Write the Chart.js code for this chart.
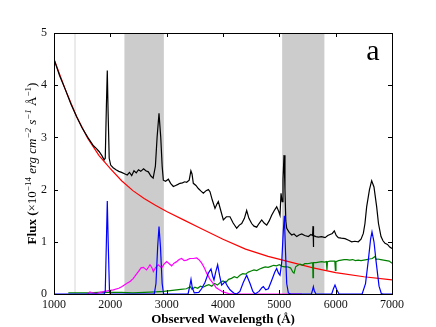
<!DOCTYPE html>
<html>
<head>
<meta charset="utf-8">
<script src="https://cdn.jsdelivr.net/npm/chart.js@4/dist/chart.umd.min.js"></script>
<style>
  body { margin: 0; background: #fff; }
  canvas { display: block; }
</style>
</head>
<body>
<canvas id="spec" width="436" height="327"></canvas>
<script>
// observed spectrum (black)
const blackWave = [1000,1100,1200,1300,1400,1500,1600,1700,1750,1800,1850,1890,1910,1930,1946,1960,1980,2006,2050,2100,2150,2200,2260,2300,2340,2380,2420,2460,2500,2540,2590,2630,2675,2720,2760,2800,2830,2864,2895,2920,2941,2980,3030,3070,3118,3160,3200,3237,3280,3320,3355,3400,3430,3450,3473,3520,3562,3610,3651,3700,3740,3769,3810,3858,3890,3917,3960,4006,4060,4124,4180,4243,4290,4332,4380,4420,4460,4509,4550,4598,4640,4687,4730,4776,4820,4864,4910,4953,4990,5012,5030,5050,5065,5083,5100,5115,5131,5175,5220,5260,5309,5350,5398,5450,5516,5560,5590,5598,5602,5606,5612,5650,5693,5750,5812,5860,5900,5940,5976,6010,6047,6100,6166,6230,6284,6340,6402,6450,6491,6520,6550,6600,6639,6680,6728,6760,6805,6840,6876,6920,6960,7000];
const blackFlux = [4.50,4.18,3.92,3.64,3.40,3.18,3.00,2.84,2.79,2.73,2.65,2.57,2.60,3.60,4.28,3.50,2.60,2.47,2.42,2.38,2.35,2.33,2.30,2.28,2.33,2.27,2.36,2.32,2.38,2.35,2.40,2.36,2.34,2.26,2.22,2.45,3.00,3.46,3.00,2.45,2.18,2.16,2.20,2.12,2.06,2.08,2.10,2.12,2.13,2.15,2.14,2.18,2.36,2.30,2.12,2.08,2.02,1.97,1.93,1.98,2.00,1.96,1.80,1.64,1.72,1.77,1.60,1.42,1.48,1.48,1.36,1.26,1.32,1.35,1.45,1.60,1.45,1.35,1.30,1.28,1.35,1.42,1.36,1.32,1.40,1.51,1.60,1.67,1.58,1.51,1.93,1.77,2.20,2.66,2.00,1.40,1.26,1.18,1.13,1.15,1.10,1.13,1.15,1.12,1.10,1.14,1.12,1.30,0.90,1.28,1.12,1.10,1.09,1.10,1.08,1.12,1.14,1.16,1.21,1.12,1.08,1.07,1.06,1.03,1.00,1.01,1.00,1.05,1.16,1.35,1.67,2.00,2.17,2.05,1.67,1.35,1.10,1.02,0.97,0.95,0.90,0.87];

// continuum (red)
const redWave = [1000,1200,1400,1600,1800,2000,2200,2400,2600,2800,3000,3300,3600,4000,4400,4800,5200,5600,6000,6500,7000];
const redFlux = [4.50,3.92,3.40,2.98,2.65,2.40,2.17,1.98,1.83,1.70,1.58,1.42,1.26,1.05,0.86,0.72,0.61,0.50,0.41,0.33,0.27];

// emission lines (blue)
const blueWave = [1000,1890,1910,1930,1946,1962,1985,2000,2780,2810,2840,2864,2890,2920,2945,3380,3410,3432,3455,3490,3570,3620,3680,3740,3787,3815,3840,3870,3905,3940,3976,4006,4036,4080,4124,4190,4243,4300,4360,4420,4480,4530,4568,4640,4690,4716,4760,4805,4860,4920,4953,4985,5012,5042,5070,5089,5110,5131,5160,5200,5570,5590,5604,5620,5650,5930,5960,5988,6020,6060,6470,6530,6580,6620,6645,6680,6720,6770,6810,6850,7000];
const blueFlux = [0,0,0.05,1.00,1.78,1.00,0.05,0,0,0.20,0.90,1.29,0.90,0.20,0,0,0.15,0.28,0.12,0.02,0.03,0.10,0.22,0.40,0.48,0.35,0.27,0.42,0.56,0.35,0.17,0.20,0.24,0.15,0.08,0.02,0,0.05,0.22,0.36,0.20,0.05,0,0.05,0.12,0.14,0.08,0.10,0.25,0.42,0.49,0.40,0.36,0.60,1.20,1.50,0.80,0.20,0.02,0,0,0.08,0.14,0.06,0,0,0.10,0.17,0.08,0,0,0.20,0.65,1.05,1.19,1.00,0.60,0.15,0.01,0,0];

// Fe II template (magenta)
const magWave = [1600,1639,1680,1750,1817,1900,2053,2150,2201,2290,2350,2408,2450,2497,2545,2586,2645,2704,2740,2763,2800,2852,2911,2960,3000,3045,3089,3130,3178,3220,3266,3310,3355,3410,3473,3533,3580,3622,3670,3710,3770,3828,3880,3935,4000,4100,4200,5400];
const magFlux = [0,0.04,0.02,0.01,0.03,0.05,0.08,0.11,0.14,0.20,0.24,0.30,0.36,0.43,0.50,0.51,0.46,0.56,0.50,0.43,0.50,0.56,0.50,0.58,0.62,0.58,0.54,0.59,0.62,0.66,0.68,0.64,0.65,0.68,0.68,0.69,0.65,0.59,0.50,0.40,0.28,0.20,0.12,0.08,0.04,0.01,0,0];

// host galaxy (green)
const greenWave = [1254,1400,1600,1800,2000,2200,2400,2600,2800,2950,3100,3250,3350,3420,3450,3500,3550,3600,3650,3700,3750,3800,3850,3900,3950,4000,4050,4100,4150,4200,4250,4300,4350,4400,4450,4500,4550,4600,4650,4700,4750,4800,4850,4900,4950,5000,5050,5100,5150,5200,5240,5261,5290,5330,5370,5410,5450,5500,5550,5592,5597,5601,5604,5608,5650,5700,5750,5800,5835,5845,5855,5900,5950,5985,5995,6005,6050,6100,6150,6200,6250,6300,6350,6400,6450,6500,6550,6600,6650,6698,6720,6750,6800,6850,6900,6950,7000];
const greenFlux = [0.02,0.02,0.02,0.03,0.03,0.03,0.02,0.03,0.04,0.05,0.07,0.09,0.10,0.14,0.09,0.13,0.11,0.15,0.13,0.16,0.18,0.15,0.20,0.17,0.22,0.25,0.22,0.28,0.30,0.33,0.31,0.36,0.39,0.38,0.42,0.44,0.46,0.45,0.48,0.50,0.52,0.51,0.53,0.55,0.54,0.56,0.53,0.52,0.52,0.50,0.42,0.40,0.52,0.55,0.57,0.55,0.58,0.58,0.59,0.60,0.30,0.58,0.30,0.60,0.60,0.61,0.62,0.61,0.62,0.46,0.62,0.63,0.63,0.63,0.45,0.62,0.64,0.65,0.66,0.66,0.65,0.66,0.64,0.65,0.64,0.65,0.66,0.67,0.68,0.72,0.66,0.67,0.66,0.65,0.64,0.63,0.59];

// shaded windows and marker line
const bandStart = [2250, 5050];
const bandEnd = [2950, 5800];
const markerLines = [1373];

const xTicks = [1000, 2000, 3000, 4000, 5000, 6000, 7000];
const yTicks = [0, 1, 2, 3, 4, 5];

const pts = (w, f) => w.map((x, i) => ({ x: x, y: f[i] }));
const serif = 'Liberation Serif';

// shaded bands behind the lines
const bands = {
  id: 'bands',
  beforeDatasetsDraw(chart) {
    const { ctx, chartArea: { top, bottom }, scales: { x } } = chart;
    ctx.save();
    ctx.fillStyle = '#cccccc';
    for (let i = 0; i < bandStart.length; i++) {
      const a = x.getPixelForValue(bandStart[i]);
      const b = x.getPixelForValue(bandEnd[i]);
      ctx.fillRect(a, top, b - a, bottom - top);
    }
    ctx.strokeStyle = '#e4e4e4';
    ctx.lineWidth = 1.5;
    markerLines.forEach(v => {
      const px = x.getPixelForValue(v);
      ctx.beginPath();
      ctx.moveTo(px, top);
      ctx.lineTo(px, bottom);
      ctx.stroke();
    });
    ctx.restore();
  }
};

// matplotlib style frame with inward ticks
const frame = {
  id: 'frame',
  afterDatasetsDraw(chart) {
    const { ctx, chartArea: { top, bottom, left, right }, scales: { x, y } } = chart;
    ctx.save();
    ctx.strokeStyle = '#000';
    ctx.lineWidth = 1;
    ctx.strokeRect(Math.round(left) + 0.5, Math.round(top) + 0.5, Math.round(right - left), Math.round(bottom - top));
    ctx.beginPath();
    xTicks.forEach(v => {
      const px = Math.round(x.getPixelForValue(v)) + 0.5;
      ctx.moveTo(px, bottom); ctx.lineTo(px, bottom - 4);
      ctx.moveTo(px, top); ctx.lineTo(px, top + 4);
    });
    yTicks.forEach(v => {
      const py = Math.round(y.getPixelForValue(v)) + 0.5;
      ctx.moveTo(left, py); ctx.lineTo(left + 4, py);
      ctx.moveTo(right, py); ctx.lineTo(right - 4, py);
    });
    ctx.stroke();
    ctx.restore();
  },
  afterDraw(chart) {
    const { ctx, chartArea: { top, bottom } } = chart;
    ctx.save();
    // panel letter
    ctx.fillStyle = '#000';
    ctx.font = '30px ' + serif;
    ctx.textAlign = 'center';
    ctx.textBaseline = 'alphabetic';
    ctx.fillText('a', 373, 60);

    // y axis title, mixed styles
    const parts = [
      { t: 'Flux (', f: 'bold 13px ' + serif, r: 0 },
      { t: '\u00d710', f: '13px ' + serif, r: 0 },
      { t: '\u221214', f: '9px ' + serif, r: 5 },
      { t: ' erg cm', f: 'italic 13px ' + serif, r: 0 },
      { t: '\u22122', f: 'italic 9px ' + serif, r: 5 },
      { t: ' s', f: 'italic 13px ' + serif, r: 0 },
      { t: '\u22121', f: 'italic 9px ' + serif, r: 5 },
      { t: ' \u00c5', f: '13px ' + serif, r: 0 },
      { t: '\u22121', f: '9px ' + serif, r: 5 },
      { t: ')', f: '13px ' + serif, r: 0 }
    ];
    let total = 0;
    parts.forEach(p => { ctx.font = p.f; p.w = ctx.measureText(p.t).width; total += p.w; });
    ctx.translate(36, (top + bottom) / 2);
    ctx.rotate(-Math.PI / 2);
    ctx.textAlign = 'left';
    let cx = -total / 2;
    parts.forEach(p => {
      ctx.font = p.f;
      ctx.fillText(p.t, cx, -p.r);
      cx += p.w;
    });
    ctx.restore();
  }
};

const lineSet = (label, w, f, color) => ({
  label: label,
  data: pts(w, f),
  borderColor: color,
  backgroundColor: color,
  borderWidth: 1.2,
  pointRadius: 0,
  tension: 0,
  fill: false
});

const config = {
  type: 'line',
  data: {
    datasets: [
      lineSet('spectrum', blackWave, blackFlux, '#000000'),
      lineSet('lines', blueWave, blueFlux, '#0000ff'),
      lineSet('FeII', magWave, magFlux, '#ff00ff'),
      lineSet('host', greenWave, greenFlux, '#008000'),
      lineSet('continuum', redWave, redFlux, '#ff0000')
    ]
  },
  options: {
    responsive: false,
    animation: false,
    layout: { padding: { top: 33, right: 44, left: 0, bottom: 0 } },
    plugins: {
      legend: { display: false },
      tooltip: { enabled: false }
    },
    scales: {
      x: {
        type: 'linear',
        min: 1000,
        max: 7000,
        grid: { display: false, drawTicks: false },
        border: { display: false },
        ticks: {
          stepSize: 1000,
          padding: 4,
          color: '#111',
          maxRotation: 0,
          font: { family: serif, size: 12 },
          callback: v => String(v)
        },
        title: {
          display: true,
          text: 'Observed Wavelength (\u00c5)',
          color: '#000',
          padding: { top: 1, bottom: 0 },
          font: { family: serif, size: 13, weight: 'bold' }
        },
        afterFit(scale) { scale.height = 33; }
      },
      y: {
        min: 0,
        max: 5,
        grid: { display: false, drawTicks: false },
        border: { display: false },
        ticks: {
          stepSize: 1,
          padding: 7,
          color: '#111',
          font: { family: serif, size: 12 },
          callback: v => String(v)
        },
        afterFit(scale) { scale.width = 54; }
      }
    }
  },
  plugins: [bands, frame]
};

const specChart = new Chart(document.getElementById('spec'), config);
</script>
</body>
</html>
